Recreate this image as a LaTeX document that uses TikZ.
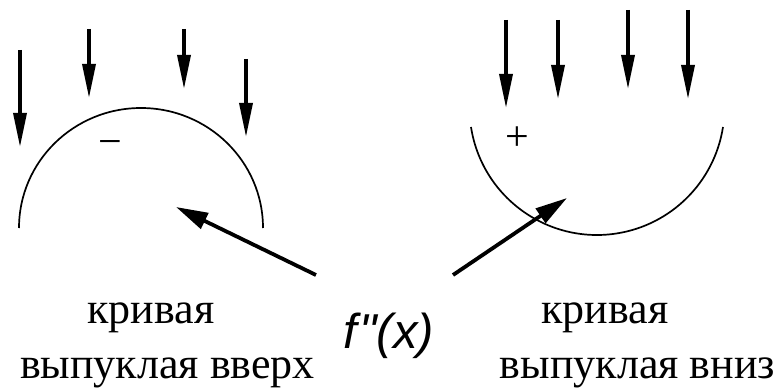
\documentclass[tikz,border=0pt]{standalone}
\usepackage{fontspec}
\setmainfont{Liberation Serif}
\newfontfamily\fsans{Liberation Sans}
\usetikzlibrary{arrows.meta}
\begin{document}
\begin{tikzpicture}[x=1pt,y=-1pt,
  drop/.style={line width=3.4pt,-{Triangle[length=34pt,width=13pt]}},
  pointer/.style={line width=3.8pt,-{Triangle[length=32pt,width=17pt]}},
  curve/.style={line width=1.7pt},
  lbl/.style={font=\fontsize{44}{44}\selectfont, inner sep=0pt, anchor=base},
  sign/.style={font=\fontsize{42}{42}\selectfont, inner sep=0pt, anchor=base}]
\useasboundingbox (0,0) rectangle (776,390);
% drops
\foreach \n/\x/\ya/\yb in {a/20/50/147, b/89/29/98, c/184/29/89, d/246/59/137,
                           e/506/20/108, f/558/20/99, g/628/10/89, h/688/10/99}{
  \coordinate (s\n) at (\x,\ya);
  \coordinate (t\n) at (\x,\yb);
  \draw[drop] (s\n) -- (t\n);
}
% curves
\coordinate (L1) at (19,228);
\draw[curve] (L1) arc[start angle=180, end angle=360, x radius=122, y radius=120];
\coordinate (R1) at (471,127);
\draw[curve] (R1) arc[start angle=171.2, end angle=8.8, radius=127.5];
% signs
\node[sign] (minus) at (110.5,156) {−};
\node[sign] (plus) at (517,151) {+};
% labels
\node[lbl] (k1) at (151,323) {кривая};
\node[lbl] (v1) at (167.5,378) {выпуклая вверх};
\node[lbl] (k2) at (605,323) {кривая};
\node[lbl] (v2) at (637.5,378) {выпуклая вниз};
\node[font=\fsans\itshape\fontsize{49}{49}\selectfont, inner sep=0pt, anchor=base] (fx) at (389,348) {f\kern2pt"(x)};
% pointers
\coordinate (p1s) at (316,275);
\coordinate (p1t) at (176,207);
\coordinate (p2s) at (453,275);
\coordinate (p2t) at (567,198);
\draw[pointer] (p1s) -- (p1t);
\draw[pointer] (p2s) -- (p2t);
\end{tikzpicture}
\end{document}
